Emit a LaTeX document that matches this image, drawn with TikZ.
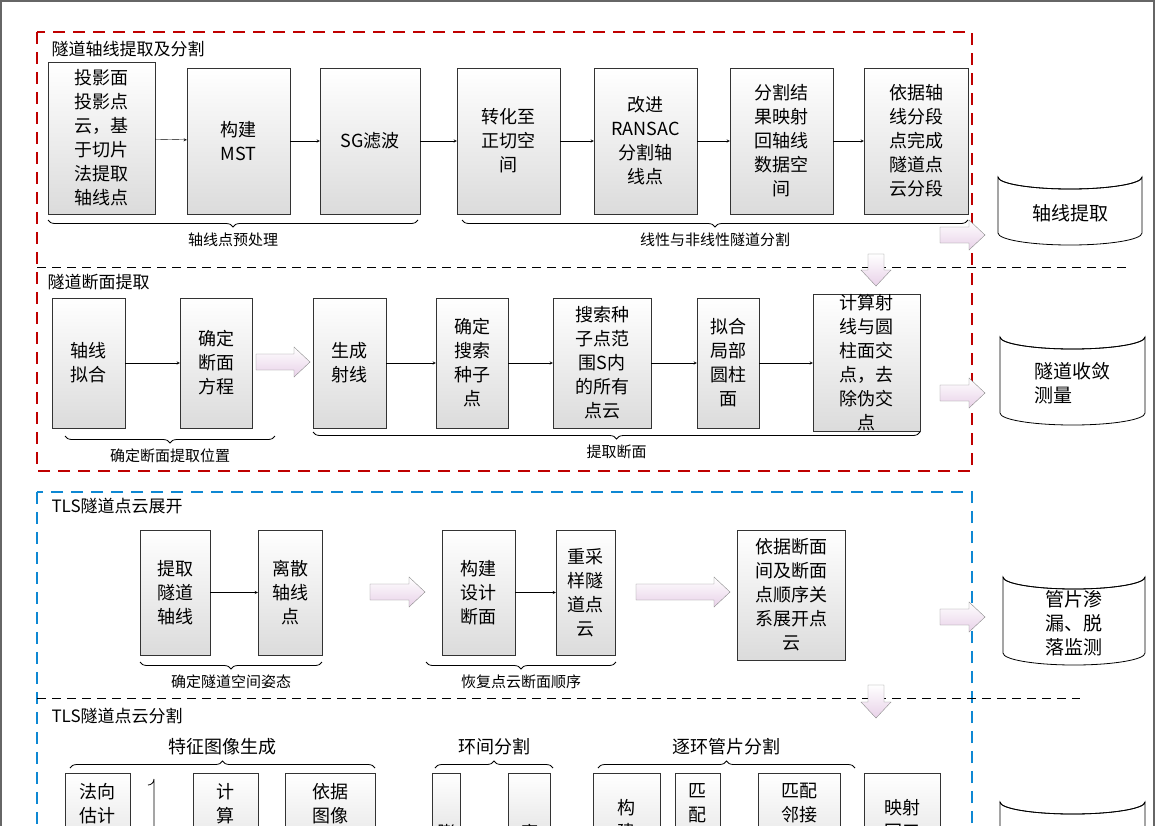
\documentclass[tikz,border=0pt]{standalone}
\usepackage{fontspec}
\setmainfont{Liberation Serif}
\newfontfamily\cjk{Noto Sans CJK SC}
\usetikzlibrary{decorations.pathreplacing,calc}
\tikzset{
 bx/.style={draw=black!80,top color=white,bottom color=black!14,align=center,inner sep=0pt,font=\cjk\fontsize{18}{24}\selectfont},
 ar/.style={->,>=stealth,thin},
 bigst/.style={draw=black!45,top color=white,bottom color=violet!18},
 brc/.style={decorate,decoration={brace,amplitude=7pt,mirror},thick},
 brcu/.style={decorate,decoration={brace,amplitude=7pt},thick},
 lab/.style={font=\cjk\fontsize{15}{18}\selectfont},
 ttl/.style={font=\cjk\fontsize{17}{20}\selectfont,anchor=west},
 cyl/.style={draw,thick,fill=white},
}
\newcommand{\bx}[6]{\node[bx,minimum width=#4pt-#2pt,minimum height=#5pt-#3pt] (#1) at ({(#2+#4)/2},{(#3+#5)/2}) {#6};}
% right arrow: name x1 x2 y
\newcommand{\fatr}[4]{\draw[bigst] (#2,#4-8) -- (#3-16,#4-8) -- (#3-16,#4-15) -- (#3,#4) -- (#3-16,#4+15) -- (#3-16,#4+8) -- (#2,#4+8) -- cycle; \coordinate (#1) at ({(#2+#3)/2},#4);}
% down arrow: name x y1 y2
\newcommand{\fatd}[4]{\draw[bigst] (#2-8,#3) -- (#2+8,#3) -- (#2+8,#4-16) -- (#2+15,#4-16) -- (#2,#4) -- (#2-15,#4-16) -- (#2-8,#4-16) -- cycle; \coordinate (#1) at (#2,{(#3+#4)/2});}
\newcommand{\cylnd}[6]{% name x1 y1 x2 y2 text
 \draw[cyl] (#2,#3+12) -- (#2,#5-12) arc[start angle=180,end angle=0,x radius={(#4-#2)/2},y radius=12] -- (#4,#3+12) arc[start angle=0,end angle=180,x radius={(#4-#2)/2},y radius=12] -- cycle;
 \draw[thick] (#2,#3+12) arc[start angle=180,end angle=0,x radius={(#4-#2)/2},y radius=12];
 \node[font=\cjk\fontsize{19}{24}\selectfont,align=left] (#1) at ({(#2+#4)/2},{(#3+#5)/2+8}) {#6};}
\begin{document}
\begin{tikzpicture}[x=1pt,y=-1pt]
\clip (0,0) rectangle (1155,825);
\fill[white] (0,0) rectangle (1155,825);
\draw[black!60,line width=2pt] (1,1) rectangle (1154,830);
% section 1
\draw[red!75!black,dashed,line width=2.2pt,dash pattern=on 12pt off 8pt] (37,32) rectangle (972,471);
\node[ttl] (t1) at (48,49) {隧道轴线提取及分割};
\bx{a1}{48}{62}{155}{214}{投影面\\投影点\\云，基\\于切片\\法提取\\轴线点}
\bx{a2}{187}{68}{290}{214}{构建\\MST}
\bx{a3}{320}{68}{420}{214}{SG滤波}
\bx{a4}{457}{68}{560}{214}{转化至\\正切空\\间}
\bx{a5}{594}{68}{697}{214}{改进\\RANSAC\\分割轴\\线点}
\bx{a6}{730}{68}{833}{214}{分割结\\果映射\\回轴线\\数据空\\间}
\bx{a7}{864}{68}{968}{214}{依据轴\\线分段\\点完成\\隧道点\\云分段}
\foreach \a/\b in {a1/a2,a2/a3,a3/a4,a4/a5,a5/a6,a6/a7} \draw[ar] (\a) -- (\b);
\draw[brc] (48,220) -- (418,220) node[midway,below=9pt,lab] (l1) {轴线点预处理};
\draw[brc] (462,220) -- (968,220) node[midway,below=9pt,lab] (l2) {线性与非线性隧道分割};
\draw[dashed,thick,dash pattern=on 9pt off 6pt] (37,267) -- (1130,267);
\cylnd{c1}{998}{165}{1142}{245}{轴线提取}
\fatr{g1}{940}{985}{235}
\fatd{g2}{876}{254}{286}
% section 2
\node[ttl] (t2) at (44,282) {隧道断面提取};
\bx{b1}{52}{298}{125}{428}{轴线\\拟合}
\bx{b2}{180}{298}{252}{428}{确定\\断面\\方程}
\bx{b3}{313}{298}{386}{428}{生成\\射线}
\bx{b4}{436}{298}{508}{428}{确定\\搜索\\种子\\点}
\bx{b5}{553}{298}{651}{428}{搜索种\\子点范\\围S内\\的所有\\点云}
\bx{b6}{697}{298}{759}{428}{拟合\\局部\\圆柱\\面}
\bx{b7}{813}{298}{920}{428}{计算射\\线与圆\\柱面交\\点，去\\除伪交\\点}
\foreach \a/\b in {b1/b2,b3/b4,b4/b5,b5/b6,b6/b7} \draw[ar] (\a) -- (\b);
\fatr{g3}{256}{310}{362}
\draw[brc] (65,436) -- (275,436) node[midway,below=9pt,lab] (l3) {确定断面提取位置};
\draw[brc] (313,432) -- (920,432) node[midway,below=9pt,lab] (l4) {提取断面};
\cylnd{c2}{1000}{325}{1145}{425}{隧道收敛\\测量}
\fatr{g4}{940}{985}{393}
% section 3
\draw[cyan!70!blue,dashed,line width=2.2pt,dash pattern=on 12pt off 8pt] (37,492) rectangle (972,840);
\node[ttl] (t3) at (48,506) {TLS隧道点云展开};
\bx{d1}{140}{530}{210}{655}{提取\\隧道\\轴线}
\bx{d2}{258}{530}{322}{655}{离散\\轴线\\点}
\bx{d3}{442}{530}{515}{655}{构建\\设计\\断面}
\bx{d4}{556}{530}{615}{655}{重采\\样隧\\道点\\云}
\bx{d5}{737}{530}{845}{660}{依据断面\\间及断面\\点顺序关\\系展开点\\云}
\foreach \a/\b in {d1/d2,d3/d4} \draw[ar] (\a) -- (\b);
\fatr{g5}{370}{425}{592}
\fatr{g6}{636}{730}{592}
\draw[brc] (140,662) -- (322,662) node[midway,below=9pt,lab] (l5) {确定隧道空间姿态};
\draw[brc] (426,662) -- (616,662) node[midway,below=9pt,lab] (l6) {恢复点云断面顺序};
\cylnd{c3}{1003}{565}{1145}{665}{管片渗\\漏、脱\\落监测}
\fatr{g7}{940}{985}{617}
\draw[dashed,thick,dash pattern=on 9pt off 6pt] (37,698) -- (1080,698);
\fatd{g8}{876}{685}{718}
% section 4
\node[ttl] (t4) at (48,716) {TLS隧道点云分割};
\draw[brcu] (70,768) -- (375,768) node[midway,above=9pt,lab,font=\cjk\fontsize{18}{20}\selectfont] (h1) {特征图像生成};
\draw[brcu] (435,768) -- (553,768) node[midway,above=9pt,lab,font=\cjk\fontsize{18}{20}\selectfont] (h2) {环间分割};
\draw[brcu] (598,768) -- (855,768) node[midway,above=9pt,lab,font=\cjk\fontsize{18}{20}\selectfont] (h3) {逐环管片分割};
\bx{e1}{65}{773}{130}{880}{法向\\估计\\ \\ }
\bx{e2}{193}{773}{258}{880}{计\\算\\ \\ }
\bx{e3}{285}{773}{375}{880}{依据\\图像\\展开\\ }
\bx{e4}{432}{773}{460}{860}{\\ \\膨}
\bx{e5}{508}{773}{550}{860}{\\ \\腐}
\bx{e6}{593}{773}{660}{880}{ \\构\\建\\ }
\bx{e7}{675}{773}{720}{880}{匹\\配\\ \\ }
\bx{e8}{758}{773}{840}{880}{匹配\\邻接\\ \\ }
\bx{e9}{864}{773}{940}{880}{ \\映射\\回三\\ }
\draw[thick] (148,785) arc[start angle=90,end angle=0,radius=6] -- (154,830);
\cylnd{c4}{1000}{790}{1145}{890}{}
\end{tikzpicture}
\end{document}
